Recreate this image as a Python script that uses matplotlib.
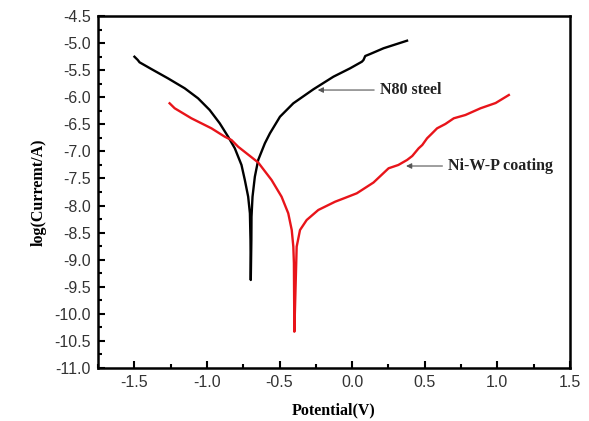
import matplotlib
matplotlib.use("Agg")
import matplotlib.pyplot as plt
from matplotlib.ticker import MultipleLocator, FormatStrFormatter

# N80 steel polarization curve (potential V, log current)
n80_E = [-1.499, -1.476, -1.464, -1.383, -1.269, -1.153, -1.061, -0.981, -0.912, -0.854,
         -0.808, -0.762, -0.739, -0.716, -0.704, -0.700, -0.698,
         -0.694, -0.693, -0.686, -0.670, -0.647, -0.601, -0.566, -0.497, -0.405,
         -0.267, -0.129, -0.014, 0.067, 0.078, 0.090, 0.124, 0.216, 0.378]
n80_logI = [-5.252, -5.313, -5.355, -5.479, -5.650, -5.835, -6.020, -6.236, -6.481, -6.729,
            -6.943, -7.251, -7.528, -7.837, -8.143, -8.636, -9.375,
            -8.636, -8.206, -7.837, -7.468, -7.159, -6.851, -6.666, -6.360, -6.112,
            -5.854, -5.621, -5.466, -5.344, -5.313, -5.239, -5.202, -5.096, -4.956]

# Ni-W-P coating polarization curve
niwp_E = [-1.257, -1.222, -1.107, -0.969, -0.877, -0.831, -0.785, -0.647, -0.555, -0.486,
          -0.440, -0.416, -0.405, -0.401, -0.398,
          -0.382, -0.359, -0.313, -0.233, -0.117, -0.050, 0.032, 0.147, 0.251, 0.318,
          0.378, 0.414, 0.458, 0.483, 0.516, 0.546, 0.585, 0.642, 0.700, 0.780,
          0.884, 0.988, 1.079]
niwp_logI = [-6.112, -6.204, -6.389, -6.574, -6.729, -6.790, -6.914, -7.205, -7.528, -7.837,
             -8.143, -8.452, -8.760, -9.067, -10.330,
             -8.760, -8.452, -8.267, -8.082, -7.929, -7.860, -7.774, -7.575, -7.312, -7.251,
             -7.159, -7.085, -6.943, -6.882, -6.758, -6.679, -6.574, -6.494, -6.389, -6.328,
             -6.204, -6.107, -5.959]

x_ticks = [-1.5, -1.0, -0.5, 0.0, 0.5, 1.0, 1.5]

fig = plt.figure(figsize=(5.89, 4.21), dpi=100)
ax = fig.add_axes([0.1664, 0.1259, 0.8013, 0.8361])

ax.plot(n80_E, n80_logI, color="black", lw=1.7, solid_joinstyle="round")
ax.plot(niwp_E, niwp_logI, color="#e8141a", lw=1.7, solid_joinstyle="round")

ax.set_xlim(-1.75, 1.5)
ax.set_ylim(-11.0, -4.5)
ax.set_xticks(x_ticks)
ax.xaxis.set_minor_locator(MultipleLocator(0.25))
ax.yaxis.set_major_locator(MultipleLocator(0.5))
ax.yaxis.set_minor_locator(MultipleLocator(0.25))
ax.xaxis.set_major_formatter(FormatStrFormatter("%.1f"))
ax.yaxis.set_major_formatter(FormatStrFormatter("%.1f"))

ax.tick_params(which="both", direction="in", width=1.5,
               top=False, right=False, colors="black")
ax.tick_params(which="major", length=5, pad=5, labelsize=11.5)
ax.tick_params(which="minor", length=3)
for lab in ax.get_xticklabels() + ax.get_yticklabels():
    lab.set_fontfamily("Liberation Sans")
    lab.set_color("#333333")
for s in ax.spines.values():
    s.set_linewidth(1.8)

ax.set_xlabel("Potential(V)", fontfamily="Liberation Serif", fontweight="bold",
              fontsize=11.5, labelpad=9)
ax.set_ylabel("log(Curremt/A)", fontfamily="Liberation Serif", fontweight="bold",
              fontsize=11.5, labelpad=6)

arrow = dict(arrowstyle="-|>", color="#555555", lw=0.8, mutation_scale=8)
ax.annotate("N80 steel", xy=(-0.256, -5.867), xytext=(0.19, -5.867),
            va="center", ha="left", fontfamily="Liberation Serif", fontweight="bold",
            fontsize=11.5, color="#222222", arrowprops=arrow)
ax.annotate("Ni-W-P coating", xy=(0.352, -7.27), xytext=(0.66, -7.27),
            va="center", ha="left", fontfamily="Liberation Serif", fontweight="bold",
            fontsize=11.5, color="#222222", arrowprops=arrow)

fig.savefig("out.png", dpi=100, facecolor="white")
